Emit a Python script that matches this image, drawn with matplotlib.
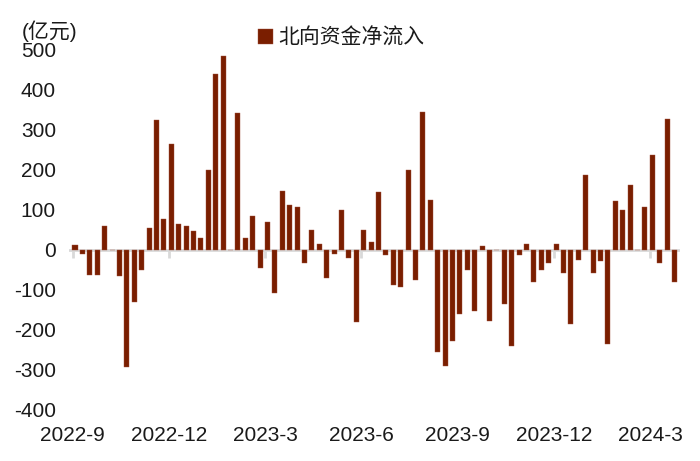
import matplotlib
matplotlib.use("Agg")
import matplotlib.pyplot as plt
import numpy as np

plt.rcParams['font.family'] = ['Liberation Sans', 'Noto Sans CJK SC', 'DejaVu Sans']

# Weekly northbound net inflow (100 million CNY), 2022-9 .. 2024-3
values = [12, -12, -64, -64, 58, 0, -66, -294, -130, -51,
          55, 324, 76, 264, 65, 58, 46, 30, 200, 440,
          484, 0, 342, 30, 84, -45, 70, -108, 147, 111,
          107, -33, 50, 13, -70, -10, 99, -20, -182, 50,
          20, 145, -14, -89, -93, 199, -76, 345, 124, -257,
          -291, -228, -160, -51, -153, 9, -179, 0, -135, -241,
          -14, 13, -80, -51, -33, 15, -58, -186, -26, 186,
          -58, -28, -236, 121, 99, 161, 0, 107, 236, -33,
          326, -80]
tick_labels = ['2022-9', '2022-12', '2023-3', '2023-6', '2023-9', '2023-12', '2024-3']
tick_index = [0, 13, 26, 39, 52, 65, 78]
series_name = '北向资金净流入'
unit_label = '(亿元)'
yticks = list(range(-400, 501, 100))

bar_color = '#7A1E00'
grey = '#D9D9D9'
text_color = '#1A1A1A'

fig = plt.figure(figsize=(7.0, 4.61), dpi=100)
ax = fig.add_axes([0.0987, 0.1117, 0.8734, 0.7809])

x = np.arange(len(values))
ax.bar(x, values, width=0.68, color=bar_color, edgecolor='#A0503A', linewidth=0.3,
       label=series_name, zorder=3)

ax.set_xlim(-0.8, len(values) - 0.2)
ax.set_ylim(-400, 500)

# zero line and tick marks at the zero line
ax.axhline(0, color=grey, lw=2, zorder=2)
tpos = [i - 0.3 for i in tick_index]
ax.vlines(tpos, -20, 0, color=grey, lw=2, zorder=2)

for s in ax.spines.values():
    s.set_visible(False)

ax.set_yticks(yticks)
ax.set_yticklabels([str(v) for v in yticks])
ax.tick_params(axis='y', length=0, pad=9.5, labelsize=15, labelcolor=text_color)
ax.set_xticks(tpos)
ax.set_xticklabels(tick_labels)
ax.tick_params(axis='x', length=0, pad=12, labelsize=15, labelcolor=text_color)

fig.text(22 / 700, 1 - 31 / 461, unit_label, fontsize=15, color=text_color,
         ha='left', va='center')

leg = ax.legend(loc='center left', bbox_to_anchor=(258 / 700, 1 - 38 / 461),
                bbox_transform=fig.transFigure, frameon=False, fontsize=15,
                handlelength=0.72, handleheight=0.72, handletextpad=0.25,
                borderpad=0, borderaxespad=0)
for t in leg.get_texts():
    t.set_color(text_color)

fig.savefig('out.png', dpi=100)
